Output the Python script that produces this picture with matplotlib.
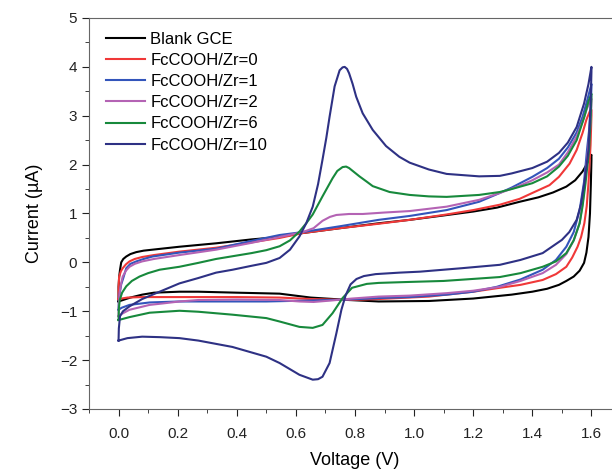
import numpy as np
import matplotlib.pyplot as plt
from matplotlib.ticker import MultipleLocator

plt.rcParams['font.family'] = ['Liberation Sans', 'DejaVu Sans']

# cyclic voltammograms: forward sweep 0 -> 1.6 V, then back to 0 V
blank_v = [0.0, 0.0, 0.002, 0.005, 0.009, 0.016, 0.026, 0.04, 0.06, 0.085, 0.115, 0.206, 0.33, 0.45, 0.545, 0.623, 0.75,
           0.88, 0.985, 1.1, 1.2, 1.28, 1.357, 1.42, 1.47, 1.515, 1.545, 1.57, 1.585, 1.596, 1.6,
           1.6, 1.598, 1.595, 1.59, 1.583, 1.575, 1.56, 1.54, 1.515, 1.49, 1.45, 1.40, 1.33, 1.2, 1.05, 0.88, 0.78,
           0.65, 0.545, 0.4, 0.27, 0.206, 0.12, 0.08, 0.04, 0.015, 0.0]
blank_i = [-0.8, -0.5, -0.3, -0.15, 0.0, 0.07, 0.12, 0.17, 0.21, 0.24, 0.26, 0.32, 0.39, 0.47, 0.52, 0.6, 0.7,
           0.8, 0.87, 0.96, 1.04, 1.12, 1.24, 1.33, 1.43, 1.55, 1.68, 1.86, 2.02, 2.16, 2.2,
           2.1, 1.6, 1.0, 0.52, 0.2, -0.01, -0.17, -0.29, -0.38, -0.46, -0.54, -0.6, -0.66, -0.74, -0.79, -0.8, -0.77,
           -0.72, -0.64, -0.62, -0.6, -0.6, -0.62, -0.66, -0.72, -0.77, -0.8]

zr0_v = [0.0, 0.0, 0.002, 0.008, 0.014, 0.025, 0.037, 0.055, 0.08, 0.12, 0.206, 0.33, 0.45, 0.545, 0.623, 0.75, 0.88,
         0.985, 1.11, 1.2, 1.29, 1.357, 1.40, 1.458, 1.49, 1.526, 1.55, 1.57, 1.583, 1.595, 1.6,
         1.6, 1.597, 1.59, 1.584, 1.576, 1.565, 1.553, 1.535, 1.515, 1.48, 1.435, 1.36, 1.29, 1.2, 1.05, 0.88, 0.78,
         0.65, 0.545, 0.4, 0.206, 0.08, 0.03, 0.0]
zr0_i = [-0.75, -0.52, -0.29, -0.18, -0.12, -0.04, 0.02, 0.07, 0.11, 0.15, 0.22, 0.3, 0.41, 0.5, 0.6, 0.7, 0.79,
         0.87, 0.98, 1.07, 1.18, 1.3, 1.42, 1.58, 1.75, 2.02, 2.3, 2.65, 2.92, 3.1, 3.12,
         3.0, 2.4, 1.62, 1.15, 0.8, 0.52, 0.32, 0.1, -0.09, -0.24, -0.36, -0.46, -0.52, -0.6, -0.7, -0.75, -0.77,
         -0.75, -0.72, -0.71, -0.71, -0.71, -0.72, -0.75]

zr1_v = [0.0, 0.001, 0.004, 0.009, 0.016, 0.026, 0.04, 0.06, 0.085, 0.115, 0.206, 0.33, 0.45, 0.545, 0.623, 0.75, 0.88,
         0.985, 1.11, 1.22, 1.29, 1.33, 1.40, 1.45, 1.49, 1.52, 1.55, 1.57, 1.585, 1.6,
         1.6, 1.598, 1.592, 1.585, 1.575, 1.56, 1.54, 1.515, 1.48, 1.435, 1.36, 1.28, 1.2, 1.11, 0.985, 0.88, 0.78,
         0.65, 0.5, 0.27, 0.206, 0.105, 0.037, 0.01, 0.0]
zr1_i = [-0.97, -0.8, -0.63, -0.45, -0.32, -0.12, -0.03, 0.02, 0.07, 0.12, 0.2, 0.28, 0.44, 0.56, 0.62, 0.74, 0.87,
         0.95, 1.07, 1.24, 1.42, 1.53, 1.75, 1.93, 2.12, 2.35, 2.66, 2.98, 3.3, 3.65,
         3.6, 3.2, 2.7, 2.3, 1.65, 1.07, 0.62, 0.32, 0.05, -0.15, -0.35, -0.5, -0.6, -0.66, -0.71, -0.73, -0.76,
         -0.78, -0.8, -0.8, -0.8, -0.82, -0.87, -0.93, -0.97]

zr2_v = [0.0, 0.001, 0.004, 0.009, 0.014, 0.025, 0.037, 0.055, 0.08, 0.12, 0.206, 0.33, 0.45, 0.545, 0.623, 0.66, 0.69,
         0.715, 0.737, 0.78, 0.826, 0.9, 0.985, 1.11, 1.22, 1.29, 1.35, 1.40, 1.45, 1.49, 1.52, 1.55, 1.57, 1.585, 1.6,
         1.6, 1.598, 1.59, 1.582, 1.572, 1.56, 1.54, 1.515, 1.48, 1.435, 1.36, 1.29, 1.2, 1.11, 0.985, 0.88, 0.79,
         0.72, 0.66, 0.612, 0.545, 0.4, 0.27, 0.206, 0.15, 0.105, 0.037, 0.012, 0.0]
zr2_i = [-1.1, -0.85, -0.6, -0.42, -0.29, -0.17, -0.09, -0.03, 0.02, 0.07, 0.15, 0.26, 0.4, 0.52, 0.62, 0.7, 0.85,
         0.93, 0.97, 0.99, 0.99, 1.02, 1.05, 1.14, 1.28, 1.42, 1.55, 1.68, 1.84, 2.0, 2.25, 2.58, 2.88, 3.15, 3.35,
         3.3, 2.9, 2.4, 1.9, 1.3, 0.8, 0.45, 0.17, -0.05, -0.22, -0.38, -0.5, -0.58, -0.63, -0.68, -0.7, -0.74,
         -0.78, -0.81, -0.8, -0.77, -0.76, -0.77, -0.8, -0.84, -0.87, -0.97, -1.05, -1.1]

zr6_v = [0.0, 0.001, 0.004, 0.012, 0.026, 0.045, 0.071, 0.1, 0.139, 0.206, 0.27, 0.33, 0.4, 0.45, 0.5, 0.545, 0.58,
         0.612, 0.635, 0.657, 0.69, 0.724, 0.74, 0.758, 0.77, 0.78, 0.815, 0.84, 0.86, 0.917, 0.985, 1.05, 1.11,
         1.22, 1.29, 1.33, 1.40, 1.45, 1.49, 1.52, 1.55, 1.576, 1.59, 1.6,
         1.6, 1.597, 1.592, 1.58, 1.57, 1.56, 1.54, 1.515, 1.48, 1.435, 1.36, 1.29, 1.22, 1.1, 0.985, 0.88, 0.84,
         0.79, 0.758, 0.724, 0.69, 0.657, 0.612, 0.545, 0.5, 0.385, 0.27, 0.206, 0.105, 0.037, 0.0]
zr6_i = [-1.18, -0.95, -0.77, -0.62, -0.49, -0.38, -0.29, -0.22, -0.15, -0.09, -0.01, 0.07, 0.14, 0.19, 0.25, 0.33, 0.45,
         0.63, 0.8, 0.98, 1.35, 1.72, 1.87, 1.95, 1.96, 1.93, 1.76, 1.65, 1.56, 1.44, 1.38, 1.35, 1.34,
         1.38, 1.44, 1.5, 1.62, 1.76, 1.96, 2.18, 2.5, 2.98, 3.3, 3.45,
         3.4, 2.9, 2.3, 1.62, 1.15, 0.8, 0.45, 0.19, 0.02, -0.09, -0.22, -0.3, -0.33, -0.38, -0.4, -0.42, -0.44,
         -0.52, -0.73, -1.04, -1.28, -1.34, -1.32, -1.21, -1.14, -1.07, -1.01, -0.99, -1.03, -1.12, -1.18]

zr10_v = [0.0, 0.001, 0.005, 0.015, 0.037, 0.08, 0.139, 0.206, 0.27, 0.33, 0.386, 0.45, 0.5, 0.545, 0.58, 0.612,
          0.635, 0.657, 0.675, 0.69, 0.703, 0.714, 0.731, 0.748, 0.758, 0.765, 0.773, 0.78, 0.792, 0.804, 0.826,
          0.86, 0.905, 0.95, 0.985, 1.05, 1.11, 1.22, 1.29, 1.33, 1.40, 1.45, 1.49, 1.52, 1.55, 1.575, 1.59, 1.6,
          1.6, 1.597, 1.59, 1.576, 1.565, 1.55, 1.525, 1.50, 1.435, 1.36, 1.29, 1.16, 1.02, 0.95, 0.87, 0.83, 0.805,
          0.785, 0.768, 0.754, 0.737, 0.714, 0.69, 0.675, 0.657, 0.612, 0.545, 0.5, 0.385, 0.27, 0.206, 0.14, 0.08, 0.03, 0.0]
zr10_i = [-1.6, -1.35, -1.1, -1.0, -0.9, -0.75, -0.6, -0.43, -0.32, -0.21, -0.15, -0.07, -0.01, 0.09, 0.26, 0.53,
          0.8, 1.14, 1.6, 2.1, 2.55, 2.98, 3.6, 3.93, 3.99, 4.0, 3.96, 3.87, 3.65, 3.39, 3.05,
          2.71, 2.38, 2.16, 2.04, 1.9, 1.81, 1.76, 1.77, 1.82, 1.93, 2.06, 2.24, 2.45, 2.77, 3.25, 3.65, 4.0,
          3.9, 3.2, 2.3, 1.62, 1.2, 0.87, 0.62, 0.46, 0.19, 0.05, -0.05, -0.12, -0.19, -0.21, -0.24, -0.28, -0.34,
          -0.45, -0.68, -0.97, -1.45, -2.06, -2.34, -2.39, -2.40, -2.30, -2.06, -1.93, -1.73, -1.6, -1.55, -1.53, -1.52, -1.55, -1.6]

labels = ["Blank GCE", "FcCOOH/Zr=0", "FcCOOH/Zr=1", "FcCOOH/Zr=2", "FcCOOH/Zr=6", "FcCOOH/Zr=10"]
colors = ["#000000", "#f03838", "#3355bb", "#b463b4", "#17893c", "#2e3184"]

fig = plt.figure(figsize=(6.12, 4.73), dpi=100)
ax = fig.add_axes([89/612, 64/473, 532/612, 391/473])

curves = [(blank_v, blank_i), (zr0_v, zr0_i), (zr1_v, zr1_i), (zr2_v, zr2_i), (zr6_v, zr6_i), (zr10_v, zr10_i)]
for (v, i), lab, c in zip(curves, labels, colors):
    ax.plot(v, i, color=c, lw=1.5, label=lab, solid_joinstyle='round')

ax.set_xlim(-0.1, 1.7)
ax.set_ylim(-3, 5)
ax.xaxis.set_minor_locator(MultipleLocator(0.1))
ax.yaxis.set_major_locator(MultipleLocator(1))
ax.yaxis.set_minor_locator(MultipleLocator(0.5))
ax.set_xticks(np.arange(0, 1.61, 0.2))
ax.set_xticklabels(["0.0", "0.2", "0.4", "0.6", "0.8", "1.0", "1.2", "1.4", "1.6"])
ax.tick_params(which='both', direction='out', labelsize=11, colors='#222222')
ax.tick_params(which='major', length=5)
ax.tick_params(which='minor', length=3)
for s in ax.spines.values():
    s.set_color('#666666')
ax.tick_params(axis='x', pad=8)

ax.set_xlabel("Voltage (V)", fontsize=13, labelpad=8)
ax.set_ylabel("Current (\u00b5A)", fontsize=13, labelpad=12)

ax.legend(loc='upper left', bbox_to_anchor=(0.032, 0.965), frameon=False, fontsize=12,
          handlelength=2.35, labelspacing=0.37, handletextpad=0.3, borderaxespad=0, borderpad=0)

fig.savefig("out.png", dpi=100)
